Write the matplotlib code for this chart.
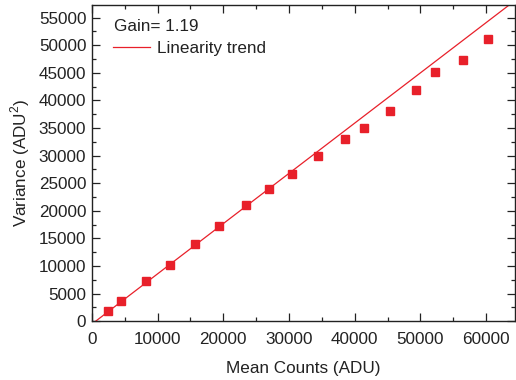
import matplotlib
matplotlib.use("Agg")
import matplotlib.pyplot as plt
from matplotlib.ticker import MultipleLocator
from matplotlib.lines import Line2D

plt.rcParams['font.family'] = ['Liberation Sans', 'DejaVu Sans']
plt.rcParams['mathtext.fontset'] = 'custom'
plt.rcParams['mathtext.rm'] = 'Liberation Sans'

# measured points
mean_counts = [2400, 4400, 8200, 11900, 15700, 19300, 23400, 27000, 30400,
               34400, 38600, 41400, 45400, 49300, 52200, 56500, 60300]
variance = [1800, 3700, 7200, 10200, 14000, 17200, 21100, 24000, 26600,
            30000, 33000, 35000, 38000, 41800, 45100, 47300, 51100]

# linearity trend endpoints
trend_x = [600, 65000]
trend_y = [0, 58640]

gain_label = "Gain= 1.19"
red = "#e8202a"
ink = "#222222"
fs = 12.3

fig = plt.figure(figsize=(5.16, 3.8), dpi=100)
ax = fig.add_axes([0.178, 0.155, 0.820, 0.832])

ax.plot(trend_x, trend_y, color=red, lw=0.9, label="Linearity trend")
ax.plot(mean_counts, variance, ls="none", marker="s", ms=5.3, color=red,
        mec=red)

ax.set_xlim(0, 64400)
ax.set_ylim(0, 57300)
ax.xaxis.set_major_locator(MultipleLocator(10000))
ax.xaxis.set_minor_locator(MultipleLocator(5000))
ax.yaxis.set_major_locator(MultipleLocator(5000))
ax.yaxis.set_minor_locator(MultipleLocator(2500))
ax.tick_params(which="both", direction="in", top=True, right=True,
               labelsize=fs, colors=ink, width=0.9)
ax.tick_params(which="major", length=6)
ax.tick_params(which="minor", length=3)
ax.tick_params(axis="x", pad=8)
ax.tick_params(axis="y", pad=4)
for s in ax.spines.values():
    s.set_linewidth(1.0)
    s.set_color(ink)

ax.set_xlabel("Mean Counts (ADU)", fontsize=fs, color=ink, labelpad=10)
ax.set_ylabel("Variance (ADU$^2$)", fontsize=fs, color=ink, labelpad=5)

handles, labels = ax.get_legend_handles_labels()
blank = Line2D([], [], ls="none")
leg = ax.legend([blank] + handles, [gain_label] + labels, loc="upper left",
                bbox_to_anchor=(0.05, 0.955), frameon=False, fontsize=fs,
                handlelength=2.17, handletextpad=0.4, borderpad=0,
                borderaxespad=0, labelspacing=0.4)
for t in leg.get_texts():
    t.set_color(ink)
leg.get_texts()[0].set_position((-43, 0))

fig.savefig("out.png", dpi=100)
